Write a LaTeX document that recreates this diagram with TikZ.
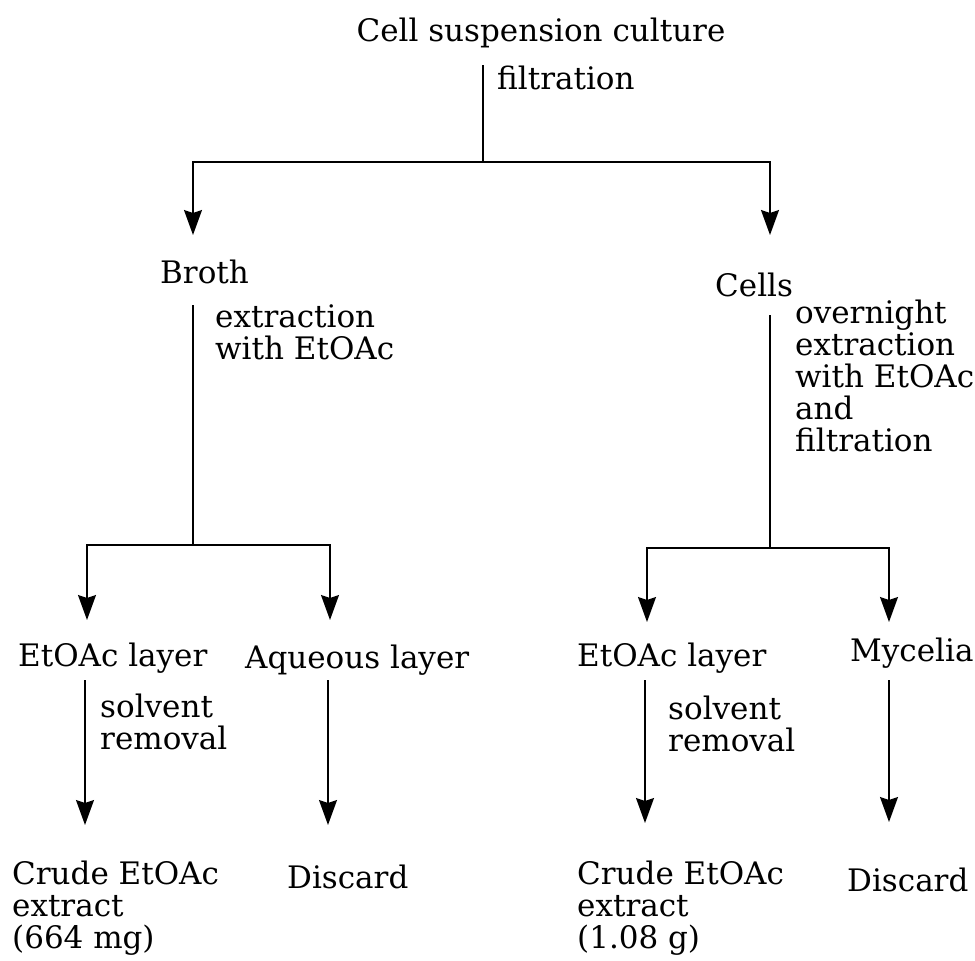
\documentclass[tikz,border=0pt]{standalone}
\usepackage{fontspec}
\setmainfont{DejaVu Serif}
\usetikzlibrary{arrows.meta}
\begin{document}
\begin{tikzpicture}[x=1pt,y=-1pt,
  lbl/.style={inner sep=0pt,anchor=base west,font=\fontsize{31}{32}\selectfont},
  multi/.style={lbl,align=left,anchor=north west},
  conn/.style={line width=1.5pt},
  arr/.style={conn,-{Stealth[length=25pt,width=18pt,inset=3pt]}}]
\useasboundingbox (0,0) rectangle (975,961);

% labels
\node[lbl,anchor=base] (culture) at (541,41) {Cell suspension culture};
\node[lbl] (filt) at (497,89) {filtration};
\node[lbl] (broth) at (160,283) {Broth};
\node[lbl] (cells) at (715,296) {Cells};
\node[multi] (extr) at (215,304) {extraction\\with EtOAc};
\node[multi] (over) at (795,300) {overnight\\extraction\\with EtOAc\\and\\filtration};
\node[lbl] (etL) at (18,666) {EtOAc layer};
\node[lbl] (aq) at (245,668) {Aqueous layer};
\node[lbl] (etR) at (577,666) {EtOAc layer};
\node[lbl] (myc) at (850,661) {Mycelia};
\node[multi] (solvL) at (100,694) {solvent\\removal};
\node[multi] (solvR) at (668,696) {solvent\\removal};
\node[multi] (crudeL) at (12,861) {Crude EtOAc\\extract\\(664 mg)};
\node[lbl] (discL) at (287,888) {Discard};
\node[multi] (crudeR) at (577,861) {Crude EtOAc\\extract\\(1.08 g)};
\node[lbl] (discR) at (847,891) {Discard};

% branch points and arrow ends
\coordinate (t0) at (483,65);   \coordinate (t1) at (483,162);
\coordinate (aBroth) at (193,235); \coordinate (aCells) at (770,235);
\coordinate (b0) at (193,305);  \coordinate (b1) at (193,545);
\coordinate (aEtL) at (87,620); \coordinate (aAq) at (330,620);
\coordinate (c0) at (770,315);  \coordinate (c1) at (770,548);
\coordinate (aEtR) at (647,622); \coordinate (aMyc) at (889,622);
\coordinate (s1) at (85,680);   \coordinate (e1) at (85,825);
\coordinate (s2) at (328,680);  \coordinate (e2) at (328,825);
\coordinate (s3) at (645,680);  \coordinate (e3) at (645,823);
\coordinate (s4) at (889,680);  \coordinate (e4) at (889,822);

% connectors
\draw[conn] (t0) -- (t1);
\draw[arr] (t1) -| (aBroth);
\draw[arr] (t1) -| (aCells);
\draw[conn] (b0) -- (b1);
\draw[arr] (b1) -| (aEtL);
\draw[arr] (b1) -| (aAq);
\draw[conn] (c0) -- (c1);
\draw[arr] (c1) -| (aEtR);
\draw[arr] (c1) -| (aMyc);
\draw[arr] (s1) -- (e1);
\draw[arr] (s2) -- (e2);
\draw[arr] (s3) -- (e3);
\draw[arr] (s4) -- (e4);
\end{tikzpicture}
\end{document}
